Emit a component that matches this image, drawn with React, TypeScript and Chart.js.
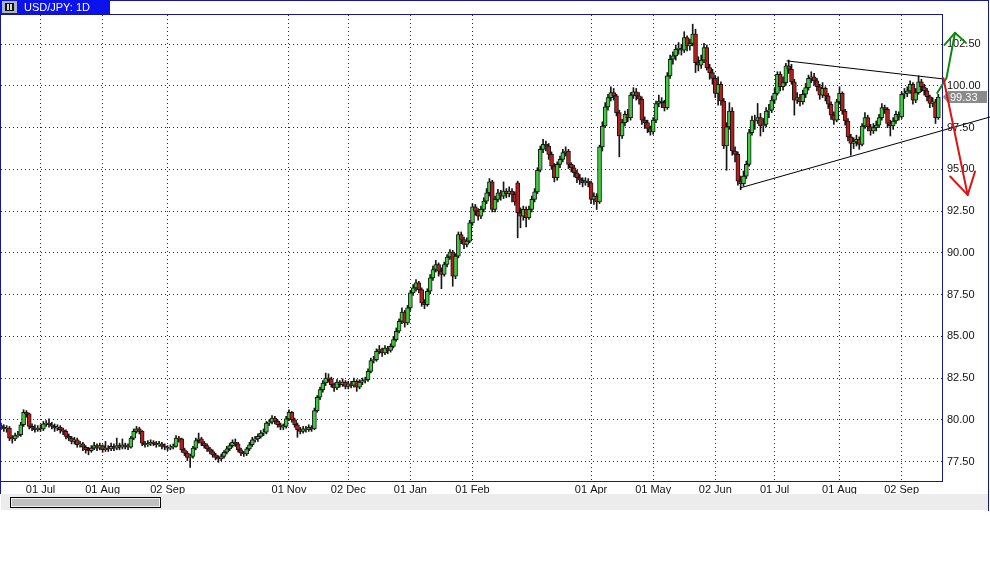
import React, { useEffect, useRef } from 'react';
import { Chart, registerables } from 'chart.js';

Chart.register(...registerables);

// ---- Daily USD/JPY candles ----
const OPEN = [
  79.65, 79.55, 79.45, 79.50, 78.90, 78.85, 79.05, 79.10, 79.70, 80.45,
  80.35, 79.60, 79.50, 79.40, 79.50, 79.45, 79.75, 79.80, 79.70, 79.60,
  79.50, 79.55, 79.40, 79.30, 79.00, 78.90, 78.70, 78.80, 78.50, 78.55,
  78.35, 78.20, 78.15, 78.30, 78.45, 78.30, 78.45, 78.20, 78.30, 78.25,
  78.40, 78.30, 78.45, 78.35, 78.50, 78.40, 78.35, 78.90, 79.30, 79.45,
  79.30, 78.60, 78.50, 78.55, 78.65, 78.60, 78.50, 78.55, 78.40, 78.35,
  78.30, 78.35, 78.40, 78.90, 78.85, 78.20, 78.00, 77.75, 77.80, 78.30,
  78.75, 78.85, 78.60, 78.45, 78.25, 78.10, 77.90, 77.75, 77.65, 77.80,
  78.05, 78.25, 78.45, 78.65, 78.55, 78.20, 78.00, 77.95, 78.25, 78.50,
  78.80, 78.85, 79.00, 79.20, 79.25, 79.80, 79.85, 80.10, 79.90, 79.70,
  79.55, 79.60, 80.05, 80.45, 80.00, 79.70, 79.40, 79.30, 79.45, 79.40,
  79.55, 79.45, 80.55, 81.35, 81.80, 82.20, 82.50, 82.45, 82.10, 81.90,
  82.25, 82.10, 82.25, 82.00, 82.15, 82.05, 82.30, 81.95, 82.25, 82.35,
  82.40, 82.90, 83.55, 83.60, 84.10, 84.20, 84.00, 84.30, 84.15, 84.40,
  84.80, 85.30, 85.90, 86.45, 85.80, 86.70, 87.60, 87.90, 88.20, 87.80,
  87.00, 86.90, 87.70, 88.50, 89.00, 89.30, 88.90, 88.70, 89.30, 89.75,
  90.05, 88.60, 89.80, 91.10, 90.80, 90.50, 90.70, 91.80, 92.75, 92.50,
  92.20, 92.60, 93.10, 93.60, 94.25, 92.60, 93.20, 93.60, 93.40, 93.70,
  93.55, 93.70, 93.50, 94.20, 92.40, 92.20, 92.60, 92.10, 92.60, 93.20,
  93.65, 94.95, 96.20, 96.50, 96.40, 95.90, 95.20, 94.50, 95.30, 95.60,
  96.00, 96.10, 95.30, 95.10, 94.80, 94.50, 94.35, 94.20, 94.30, 94.20,
  93.20, 93.40, 93.05, 96.35, 97.60, 98.75, 99.30, 99.60, 99.40, 98.40,
  97.00, 97.80, 98.30, 98.10, 99.45, 99.65, 99.40, 99.20, 97.95, 97.80,
  97.45, 97.25, 97.95, 98.95, 99.10, 99.00, 98.70, 100.60, 101.60, 101.80,
  102.20, 102.25, 102.15, 102.90, 102.40, 102.55, 103.10, 101.40, 101.25, 101.55,
  102.30, 101.10, 100.80, 100.45, 99.55, 100.10, 99.10, 96.40, 97.55, 98.50,
  96.10, 95.90, 94.30, 94.15, 94.60, 95.30, 97.20, 97.95, 97.90, 98.10,
  97.60, 97.70, 98.50, 98.55, 99.15, 99.55, 100.70, 99.95, 100.20, 101.20,
  101.00, 100.25, 99.15, 99.30, 99.05, 99.50, 99.90, 100.45, 100.55, 100.30,
  99.95, 99.45, 99.85, 99.40, 98.90, 98.25, 97.95, 99.05, 99.55, 98.50,
  97.90, 96.95, 96.55, 96.65, 96.80, 96.50, 97.60, 98.10, 97.55, 97.30,
  97.50, 97.65, 98.10, 98.70, 98.60, 97.75, 97.60, 97.90, 98.30, 98.15,
  99.50, 99.55, 99.70, 100.10, 99.15, 99.60, 100.25, 99.95, 99.70, 99.35,
  98.95, 99.05, 98.10,
];

const HIGH = [
  79.80, 79.70, 79.65, 79.60, 79.05, 79.20, 79.30, 79.85, 80.60, 80.55,
  80.40, 79.75, 79.70, 79.65, 79.70, 79.90, 79.95, 80.05, 79.85, 79.75,
  79.70, 79.65, 79.50, 79.40, 79.15, 79.00, 78.95, 78.90, 78.70, 78.65,
  78.45, 78.35, 78.45, 78.65, 78.55, 78.60, 78.50, 78.70, 78.45, 78.60,
  78.55, 78.90, 78.60, 78.85, 78.60, 78.55, 79.00, 79.45, 79.60, 79.55,
  79.35, 78.70, 78.75, 78.80, 78.75, 78.70, 78.70, 78.65, 78.55, 78.45,
  78.50, 78.55, 79.05, 79.00, 78.90, 78.30, 78.10, 77.95, 78.40, 78.90,
  79.20, 78.95, 78.70, 78.55, 78.35, 78.20, 78.00, 77.85, 77.95, 78.15,
  78.40, 78.60, 78.80, 78.85, 78.65, 78.30, 78.10, 78.35, 78.65, 78.95,
  79.00, 79.15, 79.35, 79.45, 79.90, 80.00, 80.25, 80.20, 80.00, 79.80,
  79.75, 80.20, 80.60, 80.50, 80.10, 79.80, 79.55, 79.60, 79.60, 79.70,
  79.65, 80.70, 81.45, 81.95, 82.35, 82.80, 82.75, 82.55, 82.20, 82.40,
  82.35, 82.45, 82.35, 82.30, 82.30, 82.50, 82.40, 82.40, 82.50, 82.55,
  83.05, 83.70, 83.80, 84.25, 84.45, 84.30, 84.45, 84.40, 84.55, 85.00,
  85.50, 86.05, 86.70, 86.55, 86.85, 87.75, 88.10, 88.40, 88.30, 87.90,
  87.20, 87.85, 88.70, 89.20, 89.55, 89.40, 89.10, 89.45, 89.90, 90.20,
  90.15, 89.95, 91.25, 91.25, 90.95, 90.90, 91.95, 92.95, 92.90, 92.65,
  92.80, 93.30, 93.85, 94.45, 94.35, 93.40, 93.80, 93.75, 94.25, 93.85,
  93.95, 93.85, 93.65, 94.30, 92.70, 92.80, 92.75, 92.80, 93.40, 93.85,
  95.10, 96.40, 96.80, 96.70, 96.55, 96.05, 95.35, 95.45, 95.80, 96.20,
  96.35, 96.20, 95.40, 95.25, 94.95, 94.70, 94.50, 94.50, 94.45, 94.30,
  93.60, 93.55, 96.45, 97.85, 99.00, 99.50, 99.95, 99.85, 99.50, 98.55,
  98.00, 98.50, 98.60, 99.60, 99.90, 99.85, 99.60, 99.35, 98.15, 97.95,
  97.60, 98.10, 99.10, 99.45, 99.30, 99.15, 100.80, 101.85, 102.05, 102.45,
  102.60, 102.50, 103.25, 103.00, 102.80, 103.70, 103.40, 101.75, 101.85, 102.55,
  102.45, 101.30, 101.00, 100.60, 100.55, 100.25, 99.25, 97.80, 99.00, 98.70,
  96.35, 96.05, 94.60, 94.90, 95.50, 97.40, 98.20, 98.25, 98.95, 98.35,
  98.05, 98.70, 98.90, 99.40, 99.85, 100.85, 100.85, 100.55, 101.35, 101.55,
  101.30, 100.40, 99.60, 99.50, 99.75, 100.15, 100.65, 100.85, 100.75, 100.45,
  100.10, 100.20, 99.95, 99.55, 99.05, 98.45, 99.20, 99.95, 99.65, 98.60,
  98.05, 97.10, 96.90, 97.05, 96.95, 97.75, 98.40, 98.25, 97.70, 97.75,
  97.90, 98.30, 98.95, 98.85, 98.70, 97.95, 98.10, 98.50, 98.45, 99.65,
  99.85, 99.95, 100.30, 100.20, 99.85, 100.60, 100.40, 100.10, 99.85, 99.45,
  99.30, 99.20, 99.50,
];

const LOW = [
  79.40, 79.30, 79.25, 78.75, 78.60, 78.75, 78.95, 79.00, 79.60, 80.15,
  79.45, 79.35, 79.25, 79.30, 79.30, 79.35, 79.60, 79.55, 79.45, 79.30,
  79.35, 79.20, 79.10, 78.85, 78.75, 78.55, 78.55, 78.35, 78.35, 78.15,
  78.00, 77.90, 78.05, 78.20, 78.15, 78.20, 78.05, 78.10, 78.10, 78.15,
  78.15, 78.20, 78.20, 78.25, 78.25, 78.20, 78.30, 78.80, 79.20, 79.15,
  78.45, 78.35, 78.40, 78.45, 78.45, 78.35, 78.40, 78.25, 78.20, 78.15,
  78.20, 78.25, 78.35, 78.65, 78.05, 77.85, 77.55, 77.15, 77.70, 78.20,
  78.60, 78.45, 78.30, 78.10, 77.95, 77.75, 77.60, 77.45, 77.55, 77.70,
  77.95, 78.15, 78.35, 78.40, 78.05, 77.85, 77.80, 77.85, 78.15, 78.40,
  78.65, 78.70, 78.90, 79.05, 79.15, 79.65, 79.75, 79.75, 79.55, 79.40,
  79.40, 79.50, 79.95, 79.85, 79.55, 78.95, 79.15, 79.20, 79.25, 79.30,
  79.30, 79.40, 80.45, 81.20, 81.65, 82.05, 82.25, 81.95, 81.70, 81.80,
  81.95, 82.00, 81.85, 81.85, 81.90, 81.95, 81.70, 81.85, 82.10, 82.20,
  82.30, 82.80, 83.40, 83.50, 83.95, 83.80, 83.90, 83.95, 84.05, 84.30,
  84.70, 85.20, 85.75, 85.55, 85.70, 86.55, 87.45, 87.70, 87.60, 86.80,
  86.65, 86.80, 87.55, 88.35, 88.85, 88.60, 87.85, 88.60, 89.15, 89.60,
  88.00, 88.45, 89.70, 90.55, 90.25, 90.35, 90.60, 91.65, 92.25, 91.95,
  92.05, 92.45, 92.95, 93.40, 92.45, 92.45, 93.05, 93.15, 93.25, 93.30,
  93.35, 93.05, 92.85, 90.90, 91.50, 91.95, 91.55, 92.00, 92.45, 93.05,
  93.55, 94.85, 96.00, 96.10, 95.60, 95.00, 94.25, 94.35, 95.10, 95.45,
  95.80, 95.05, 94.85, 94.55, 94.20, 94.10, 93.95, 94.05, 93.95, 92.95,
  92.90, 92.60, 92.95, 96.10, 97.50, 98.55, 99.10, 99.15, 98.20, 95.75,
  96.85, 97.60, 97.85, 97.95, 99.25, 99.15, 98.90, 97.70, 97.45, 97.20,
  97.05, 97.10, 97.80, 98.75, 98.70, 98.50, 98.60, 100.45, 101.30, 101.55,
  101.90, 101.85, 102.00, 102.10, 102.15, 102.40, 100.80, 100.90, 101.05, 101.40,
  100.95, 100.40, 100.10, 99.30, 98.85, 98.85, 96.25, 94.95, 97.40, 95.85,
  95.45, 94.05, 93.78, 94.00, 94.45, 95.20, 97.05, 97.40, 97.75, 97.00,
  97.25, 97.55, 98.10, 98.40, 98.95, 99.45, 99.70, 99.75, 100.05, 100.75,
  100.10, 98.25, 98.95, 98.80, 98.90, 99.30, 99.75, 100.20, 100.05, 99.70,
  99.20, 99.30, 99.10, 98.65, 98.00, 97.70, 97.85, 98.90, 98.30, 97.65,
  96.70, 95.85, 96.25, 96.40, 96.20, 96.40, 97.45, 97.30, 97.05, 97.15,
  97.30, 97.50, 97.95, 98.35, 97.50, 97.00, 97.40, 97.75, 97.95, 98.05,
  99.25, 99.35, 99.55, 98.90, 99.00, 99.50, 99.65, 99.45, 99.10, 98.70,
  98.75, 97.75, 98.00,
];

const CLOSE = [
  79.55, 79.45, 79.50, 78.90, 78.85, 79.05, 79.10, 79.70, 80.45, 80.35,
  79.60, 79.50, 79.40, 79.50, 79.45, 79.75, 79.80, 79.70, 79.60, 79.50,
  79.55, 79.40, 79.30, 79.00, 78.90, 78.70, 78.80, 78.50, 78.55, 78.35,
  78.20, 78.15, 78.30, 78.45, 78.30, 78.45, 78.20, 78.30, 78.25, 78.40,
  78.30, 78.45, 78.35, 78.50, 78.40, 78.35, 78.90, 79.30, 79.45, 79.30,
  78.60, 78.50, 78.55, 78.65, 78.60, 78.50, 78.55, 78.40, 78.35, 78.30,
  78.35, 78.40, 78.90, 78.85, 78.20, 78.00, 77.75, 77.80, 78.30, 78.75,
  78.85, 78.60, 78.45, 78.25, 78.10, 77.90, 77.75, 77.65, 77.80, 78.05,
  78.25, 78.45, 78.65, 78.55, 78.20, 78.00, 77.95, 78.25, 78.50, 78.80,
  78.85, 79.00, 79.20, 79.25, 79.80, 79.85, 80.10, 79.90, 79.70, 79.55,
  79.60, 80.05, 80.45, 80.00, 79.70, 79.40, 79.30, 79.45, 79.40, 79.55,
  79.45, 80.55, 81.35, 81.80, 82.20, 82.50, 82.45, 82.10, 81.90, 82.25,
  82.10, 82.25, 82.00, 82.15, 82.05, 82.30, 81.95, 82.25, 82.35, 82.40,
  82.90, 83.55, 83.60, 84.10, 84.20, 84.00, 84.30, 84.15, 84.40, 84.80,
  85.30, 85.90, 86.45, 85.80, 86.70, 87.60, 87.90, 88.20, 87.80, 87.00,
  86.90, 87.70, 88.50, 89.00, 89.30, 88.90, 88.70, 89.30, 89.75, 90.05,
  88.60, 89.80, 91.10, 90.80, 90.50, 90.70, 91.80, 92.75, 92.50, 92.20,
  92.60, 93.10, 93.60, 94.25, 92.60, 93.20, 93.60, 93.40, 93.70, 93.55,
  93.70, 93.50, 93.05, 92.40, 92.20, 92.60, 92.10, 92.60, 93.20, 93.65,
  94.95, 96.20, 96.50, 96.40, 95.90, 95.20, 94.50, 95.30, 95.60, 96.00,
  96.10, 95.30, 95.10, 94.80, 94.50, 94.35, 94.20, 94.30, 94.20, 93.20,
  93.40, 93.05, 96.35, 97.60, 98.75, 99.30, 99.60, 99.40, 98.40, 97.00,
  97.80, 98.30, 98.10, 99.45, 99.65, 99.40, 99.20, 97.95, 97.80, 97.45,
  97.25, 97.95, 98.95, 99.10, 99.00, 98.70, 100.60, 101.60, 101.80, 102.20,
  102.25, 102.15, 102.90, 102.40, 102.55, 103.10, 101.40, 101.25, 101.55, 102.30,
  101.10, 100.80, 100.45, 99.55, 100.10, 99.10, 96.40, 97.55, 98.50, 96.10,
  95.90, 94.30, 94.15, 94.60, 95.30, 97.20, 97.95, 97.90, 98.10, 97.60,
  97.70, 98.50, 98.55, 99.15, 99.55, 100.70, 99.95, 100.20, 101.20, 101.00,
  100.25, 99.15, 99.30, 99.05, 99.50, 99.90, 100.45, 100.55, 100.30, 99.95,
  99.45, 99.85, 99.40, 98.90, 98.25, 97.95, 99.05, 99.55, 98.50, 97.90,
  96.95, 96.55, 96.65, 96.80, 96.50, 97.60, 98.10, 97.55, 97.30, 97.50,
  97.65, 98.10, 98.70, 98.60, 97.75, 97.60, 97.90, 98.30, 98.15, 99.50,
  99.55, 99.70, 100.10, 99.15, 99.60, 100.25, 99.95, 99.70, 99.35, 98.95,
  99.05, 98.10, 99.33,
];

// ---- Axis ticks ----
const TICK_INDEX = [14, 36, 59, 102, 123, 145, 167, 209, 231, 253, 274, 297, 319];
const TICK_LABELS = ['01 Jul', '01 Aug', '02 Sep', '01 Nov', '02 Dec', '01 Jan', '01 Feb', '01 Apr', '01 May', '02 Jun', '01 Jul', '01 Aug', '02 Sep'];
const Y_TICKS = [77.5, 80, 82.5, 85, 87.5, 90, 92.5, 95, 97.5, 100, 102.5];
const TITLE = 'USD/JPY: 1D';
const LAST_PRICE = 99.33;

// ---- Drawn annotations, in (candle index, price) ----
const TRIANGLE_UPPER = [[278.4, 101.5], [333.7, 100.42]];
const TRIANGLE_LOWER = [[261.8, 93.89], [350.3, 98.14]];
const GREEN_SHAFT = [[331.6, 99.58], [334.9, 100.48], [337.9, 103.18]];
const GREEN_HEAD = [[334.2, 102.46], [337.9, 103.18], [341.8, 102.58]];
const RED_SHAFT = [[333.8, 100.46], [342.4, 93.47]];
const RED_HEAD = [[336.2, 94.57], [342.4, 93.47], [345.0, 94.87]];

const FONT = '"Liberation Sans", Arial, sans-serif';
const NAVY = '#16169a';

const decoPlugin = {
  id: 'deco',
  beforeDraw(chart: any) {
    const ctx = chart.ctx;
    ctx.save();
    ctx.fillStyle = '#ffffff';
    ctx.fillRect(0, 0, chart.width, chart.height);
    ctx.restore();
  },
  afterDraw(chart: any) {
    const ctx = chart.ctx;
    const xs = chart.scales.x;
    const ys = chart.scales.y;
    const P = (p: number[]) => [xs.getPixelForValue(p[0]), ys.getPixelForValue(p[1])];
    const poly = (pts: number[][], color: string, w: number) => {
      ctx.beginPath();
      pts.forEach((p, k) => {
        const [x, y] = P(p);
        if (k === 0) ctx.moveTo(x, y);
        else ctx.lineTo(x, y);
      });
      ctx.strokeStyle = color;
      ctx.lineWidth = w;
      ctx.lineJoin = 'round';
      ctx.lineCap = 'round';
      ctx.stroke();
    };
    ctx.save();

    // scrollbar band
    ctx.fillStyle = '#ececec';
    ctx.fillRect(1, 494, 987, 16);
    ctx.fillStyle = '#000000';
    ctx.fillRect(10, 497, 151, 11);
    ctx.fillStyle = '#f2f2f2';
    ctx.fillRect(11, 498, 149, 9);
    ctx.fillStyle = '#c0c0c0';
    ctx.fillRect(12, 499, 147, 7);

    // frames
    const a = chart.chartArea;
    ctx.fillStyle = NAVY;
    ctx.fillRect(0, 0, 989, 1);
    ctx.fillRect(988, 0, 1, 511);
    ctx.fillRect(0, 0, 1, 494);
    ctx.fillRect(0, a.top - 1, a.right + 1, 1);
    ctx.fillRect(a.right, a.top - 1, 1, a.bottom - a.top + 2);
    ctx.fillRect(0, a.bottom, a.right + 1, 1);

    // title tab
    ctx.fillStyle = '#0b12ee';
    ctx.fillRect(0, 0, 110, 14);
    ctx.fillStyle = '#a9b8bf';
    ctx.fillRect(2, 1, 15, 12);
    ctx.fillStyle = '#101010';
    ctx.fillRect(5, 3, 9, 8);
    ctx.fillStyle = '#d0d8d8';
    ctx.fillRect(7, 4, 2, 6);
    ctx.fillRect(10, 4, 2, 6);
    ctx.fillStyle = '#ffffff';
    ctx.font = '11px ' + FONT;
    ctx.textBaseline = 'middle';
    ctx.textAlign = 'left';
    ctx.fillText(TITLE, 24, 7.5);

    // last price tag
    const yp = ys.getPixelForValue(LAST_PRICE);
    ctx.fillStyle = '#8a8a8a';
    ctx.beginPath();
    ctx.moveTo(a.right + 1, yp);
    ctx.lineTo(a.right + 6, yp - 6);
    ctx.lineTo(987, yp - 6);
    ctx.lineTo(987, yp + 6);
    ctx.lineTo(a.right + 6, yp + 6);
    ctx.closePath();
    ctx.fill();
    ctx.fillStyle = '#ffffff';
    ctx.font = '11px ' + FONT;
    ctx.fillText(LAST_PRICE.toFixed(2), 950, yp + 0.5);

    // triangle
    poly(TRIANGLE_UPPER, '#000000', 1);
    poly(TRIANGLE_LOWER, '#000000', 1);
    // arrows
    poly(GREEN_SHAFT, '#0b8a0b', 2);
    poly(GREEN_HEAD, '#0b8a0b', 2);
    poly(RED_SHAFT, '#e01212', 2);
    poly(RED_HEAD, '#e01212', 2);

    ctx.restore();
  },
};

export default function App() {
  const ref = useRef<HTMLCanvasElement | null>(null);

  useEffect(() => {
    const canvas = ref.current;
    if (!canvas) return;
    const bodyColors = CLOSE.map((c, i) => (c >= OPEN[i] ? '#3ccc3c' : '#b81c1c'));
    const chart = new Chart(canvas, {
      type: 'bar',
      data: {
        datasets: [
          {
            label: 'body',
            data: CLOSE.map((c, i) => ({ x: i, y: [OPEN[i], c] })) as any,
            backgroundColor: bodyColors,
            borderColor: '#161616',
            borderWidth: 1,
            borderSkipped: false,
            barThickness: 4,
            grouped: false,
            order: 0,
          } as any,
          {
            label: 'wick',
            data: CLOSE.map((_, i) => ({ x: i, y: [LOW[i], HIGH[i]] })) as any,
            backgroundColor: '#161616',
            borderWidth: 0,
            barThickness: 1,
            grouped: false,
            order: 1,
          } as any,
        ],
      },
      options: {
        responsive: false,
        animation: false,
        events: [],
        devicePixelRatio: 1,
        layout: { padding: { left: 1, top: 15, right: 0, bottom: 75 } },
        plugins: { legend: { display: false }, tooltip: { enabled: false }, title: { display: false } },
        scales: {
          x: {
            type: 'linear',
            min: 0,
            max: 333.3,
            offset: false,
            afterBuildTicks: (s: any) => {
              s.ticks = TICK_INDEX.map((v) => ({ value: v }));
            },
            afterFit: (s: any) => {
              s.height = 14;
            },
            grid: { color: '#2a2a2a', lineWidth: 1, drawTicks: false, offset: false },
            border: { display: false, dash: [1, 3] },
            ticks: {
              autoSkip: false,
              maxRotation: 0,
              minRotation: 0,
              padding: 2,
              color: '#111111',
              font: { family: FONT, size: 11 },
              callback: (_v: any, idx: number) => TICK_LABELS[idx],
            },
          },
          y: {
            type: 'linear',
            position: 'right',
            min: 76.33,
            max: 104.25,
            afterBuildTicks: (s: any) => {
              s.ticks = Y_TICKS.map((v) => ({ value: v }));
            },
            afterFit: (s: any) => {
              s.width = 48;
            },
            grid: { color: '#2a2a2a', lineWidth: 1, drawTicks: false },
            border: { display: false, dash: [1, 3] },
            ticks: {
              padding: 5,
              color: '#111111',
              font: { family: FONT, size: 11 },
              callback: (v: any) => Number(v).toFixed(2),
            },
          },
        },
      } as any,
      plugins: [decoPlugin],
    });
    return () => chart.destroy();
  }, []);

  return (
    <div style={{ position: 'fixed', left: 0, top: 0, width: 990, height: 570, background: '#ffffff' }}>
      <canvas ref={ref} width={990} height={570} style={{ display: 'block', width: 990, height: 570 }} />
    </div>
  );
}
